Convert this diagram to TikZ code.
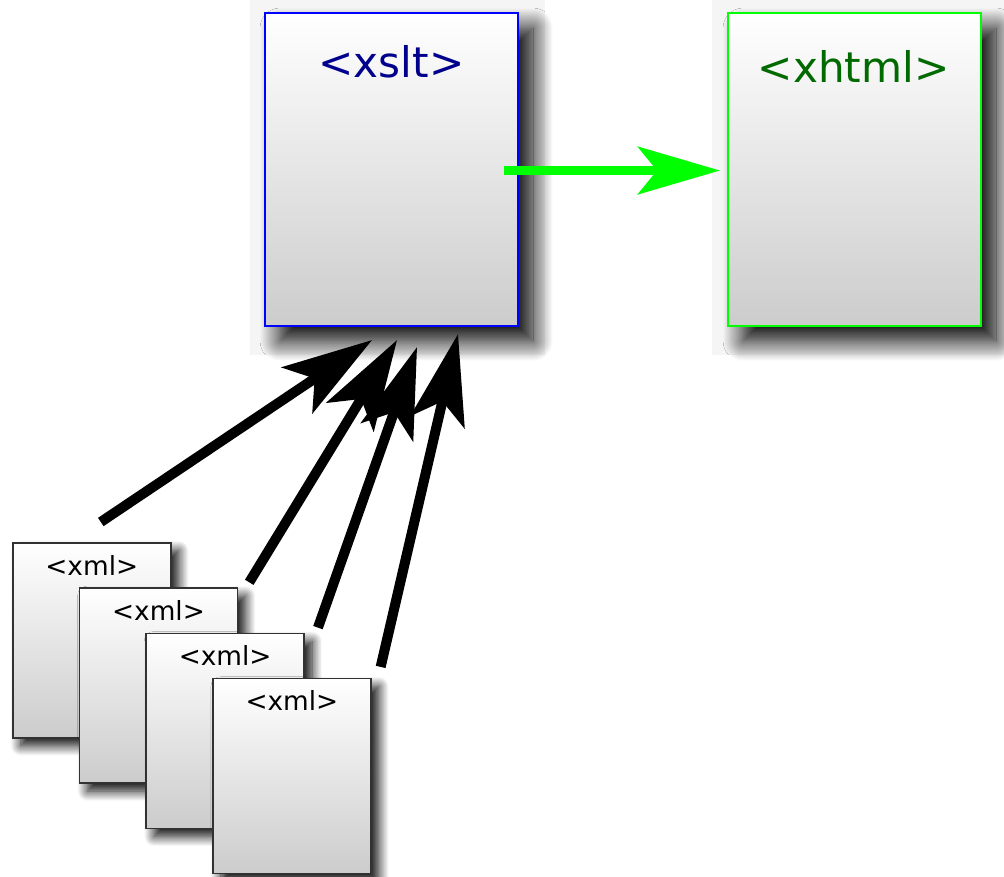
\documentclass[tikz,border=0pt]{standalone}
\usepackage{fontspec}
\setmainfont{DejaVu Sans}
\usetikzlibrary{arrows.meta,shadows.blur}
\definecolor{xsltblue}{RGB}{0,0,255}
\definecolor{xslttext}{RGB}{0,0,140}
\definecolor{xhtmlgreen}{RGB}{0,255,0}
\definecolor{xhtmltext}{RGB}{0,105,0}
\definecolor{xmledge}{RGB}{50,50,50}

\begin{document}
\begin{tikzpicture}[x=0.02cm, y=-0.02cm,
    page/.style={rectangle, top color=white, bottom color=black!20, inner sep=0pt, anchor=north west},
    bigpage/.style={page, line width=1.2pt, minimum width=5.06cm, minimum height=6.26cm,
        blur shadow={shadow xshift=0.3cm, shadow yshift=-0.3cm, shadow blur radius=0.4cm,
            shadow blur steps=25, shadow opacity=100}},
    xmlpage/.style={page, draw=xmledge, line width=0.9pt, minimum width=3.16cm, minimum height=3.9cm,
        blur shadow={shadow xshift=0.16cm, shadow yshift=-0.16cm, shadow blur radius=0.2cm,
            shadow blur steps=15, shadow opacity=95}},
    bigtext/.style={anchor=base, inner sep=0pt, font=\fontsize{24}{28}\selectfont},
    xmltext/.style={anchor=base, inner sep=0pt, font=\fontsize{15}{18}\selectfont},
    feed/.style={line width=0.2cm, -{Stealth[length=1.8cm, width=1.1cm, inset=0.42cm]}}]
    \useasboundingbox (0,0) rectangle (1004,876);

    % faint backdrop behind the big pages
    \fill[black!4] (250,0) rectangle (545,355);
    \fill[black!4] (712,0) rectangle (1004,355);

    % Stylesheet and result
    \node[bigpage, draw=xsltblue] (xslt) at (264,12) {};
    \node[bigpage, draw=xhtmlgreen] (xhtml) at (727,12) {};
    \node[bigtext, text=xslttext] (xsltlbl) at ([shift={(0,65)}]xslt.north) {<xslt>};
    \node[bigtext, text=xhtmltext] (xhtmllbl) at ([shift={(-1,70)}]xhtml.north) {<xhtml>};

    % Transformation
    \draw[xhtmlgreen, line width=0.18cm, -{Stealth[length=1.64cm, width=0.95cm, inset=0.38cm]}]
        ([shift={(-15,1)}]xslt.east) -- ([shift={(-7,1)}]xhtml.west);

    % Input documents
    \foreach \i in {1,2,3,4}
        \node[xmlpage] (xml\i) at ({12+66.7*(\i-1)}, {542+45.3*(\i-1)}) {};
    \foreach \i in {1,2,3,4}
        \node[xmltext] (xmllbl\i) at ([shift={(0,33)}]xml\i.north) {<xml>};

    % Inputs into the stylesheet
    \draw[feed] ([shift={(9,-20)}]xml1.north) -- ([shift={(-19.5,13)}]xslt.south);
    \draw[feed] ([shift={(11,-5)}]xml2.north east) -- ([shift={(5.5,13)}]xslt.south);
    \draw[feed] ([shift={(13,-5)}]xml3.north east) -- ([shift={(25.5,20)}]xslt.south);
    \draw[feed] ([shift={(9,-11)}]xml4.north east) -- ([shift={(66.5,7)}]xslt.south);
\end{tikzpicture}
\end{document}
